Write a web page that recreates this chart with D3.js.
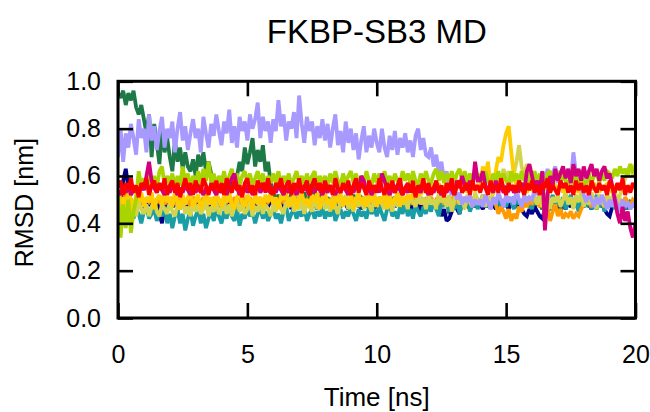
<!DOCTYPE html>
<html>
<head>
<meta charset="utf-8">
<script src="https://cdn.jsdelivr.net/npm/d3@7"></script>
<style>
  html, body { margin: 0; padding: 0; background: #fff; }
  svg { display: block; font-family: "Liberation Sans", Arial, sans-serif; }
</style>
</head>
<body>
<svg id="chart" width="650" height="412"></svg>
<script>
// RMSD traces of ten FKBP-SB3 trajectories, sampled every 0.1 ns (0 .. 20 ns)
const timeStep = 0.1;

const rmsdGreen = [
  0.95,0.93,0.96,0.90,0.95,0.92,0.96,0.89,0.86,0.90, 0.84,0.78,0.86,0.68,0.82,0.74,0.65,0.80,0.70,0.76,
  0.68,0.62,0.75,0.66,0.72,0.63,0.70,0.64,0.62,0.67, 0.60,0.69,0.64,0.70,0.62,0.66,0.61,0.58,0.56,0.55,
  0.54,0.56,0.55,0.57,0.56,0.55,0.60,0.66,0.62,0.72, 0.65,0.70,0.76,0.64,0.71,0.66,0.73,0.62,0.66,0.57,
  0.53,0.50,0.52,0.48,0.51,0.47,0.50,0.52,0.49,0.51, 0.48,0.50,0.53,0.49,0.51,0.59,0.50,0.48,0.52,0.50,
  0.49,0.51,0.48,0.50,0.52,0.47,0.50,0.49,0.51,0.48, 0.50,0.52,0.49,0.47,0.51,0.50,0.48,0.52,0.49,0.50,
  0.48,0.51,0.49,0.50,0.47,0.52,0.49,0.51,0.48,0.50, 0.49,0.47,0.51,0.50,0.48,0.52,0.49,0.51,0.48,0.50,
  0.49,0.51,0.47,0.50,0.48,0.52,0.49,0.50,0.44,0.51, 0.49,0.48,0.50,0.47,0.51,0.49,0.48,0.50,0.47,0.49,
  0.48,0.50,0.47,0.49,0.51,0.48,0.50,0.46,0.49,0.48, 0.50,0.47,0.49,0.51,0.48,0.46,0.50,0.48,0.49,0.47,
  0.49,0.47,0.50,0.48,0.46,0.49,0.47,0.50,0.48,0.49, 0.47,0.45,0.49,0.48,0.50,0.47,0.49,0.48,0.46,0.49,
  0.48,0.50,0.47,0.49,0.48,0.46,0.49,0.47,0.50,0.48, 0.49,0.47,0.48,0.50,0.47,0.49,0.48,0.46,0.49,0.48,
  0.48
];

const rmsdNavy = [
  0.50,0.47,0.58,0.63,0.55,0.49,0.47,0.50,0.48,0.49, 0.47,0.50,0.48,0.49,0.47,0.50,0.44,0.40,0.47,0.49,
  0.48,0.50,0.47,0.49,0.46,0.50,0.48,0.47,0.49,0.50, 0.47,0.48,0.50,0.46,0.49,0.47,0.50,0.48,0.46,0.49,
  0.47,0.50,0.43,0.49,0.48,0.46,0.50,0.47,0.49,0.48, 0.46,0.50,0.47,0.49,0.48,0.50,0.46,0.49,0.47,0.50,
  0.48,0.46,0.50,0.47,0.49,0.48,0.50,0.46,0.49,0.47, 0.50,0.48,0.46,0.49,0.47,0.50,0.48,0.46,0.49,0.47,
  0.49,0.47,0.50,0.48,0.46,0.49,0.47,0.50,0.48,0.46, 0.49,0.47,0.50,0.48,0.46,0.49,0.47,0.50,0.48,0.46,
  0.48,0.50,0.47,0.49,0.46,0.48,0.50,0.47,0.49,0.48, 0.46,0.50,0.47,0.49,0.44,0.48,0.50,0.45,0.49,0.47,
  0.48,0.46,0.50,0.47,0.49,0.43,0.46,0.41,0.42,0.45, 0.48,0.46,0.44,0.49,0.47,0.48,0.46,0.50,0.47,0.49,
  0.48,0.46,0.49,0.47,0.50,0.48,0.46,0.49,0.47,0.50, 0.48,0.46,0.49,0.47,0.50,0.48,0.46,0.44,0.43,0.46,
  0.44,0.47,0.45,0.43,0.42,0.46,0.44,0.48,0.46,0.49, 0.47,0.50,0.48,0.46,0.49,0.47,0.50,0.48,0.46,0.49,
  0.47,0.50,0.48,0.46,0.49,0.47,0.50,0.48,0.46,0.44, 0.43,0.47,0.49,0.47,0.50,0.48,0.46,0.49,0.47,0.48,
  0.47
];

const rmsdTeal = [
  0.47,0.43,0.46,0.41,0.45,0.48,0.42,0.46,0.44,0.40, 0.45,0.47,0.42,0.44,0.46,0.41,0.45,0.43,0.47,0.40,
  0.44,0.38,0.43,0.46,0.40,0.44,0.37,0.42,0.45,0.39, 0.43,0.46,0.40,0.44,0.38,0.42,0.45,0.41,0.46,0.43,
  0.40,0.45,0.42,0.47,0.43,0.41,0.46,0.39,0.44,0.42, 0.47,0.43,0.45,0.40,0.44,0.46,0.42,0.45,0.41,0.44,
  0.46,0.42,0.44,0.40,0.45,0.47,0.41,0.44,0.46,0.42, 0.45,0.43,0.47,0.41,0.44,0.46,0.42,0.45,0.43,0.47,
  0.42,0.45,0.43,0.47,0.41,0.44,0.46,0.42,0.45,0.43, 0.47,0.44,0.41,0.46,0.43,0.45,0.42,0.47,0.44,0.46,
  0.43,0.47,0.44,0.41,0.46,0.48,0.43,0.45,0.42,0.47, 0.44,0.49,0.43,0.46,0.42,0.48,0.45,0.43,0.47,0.44,
  0.48,0.45,0.50,0.46,0.43,0.49,0.47,0.51,0.45,0.48, 0.46,0.50,0.44,0.49,0.47,0.51,0.45,0.48,0.50,0.46,
  0.49,0.52,0.47,0.50,0.46,0.51,0.48,0.52,0.45,0.50, 0.47,0.51,0.49,0.46,0.52,0.48,0.50,0.47,0.51,0.49,
  0.46,0.51,0.48,0.52,0.47,0.50,0.45,0.49,0.52,0.47, 0.50,0.48,0.51,0.46,0.49,0.52,0.47,0.50,0.45,0.49,
  0.51,0.47,0.50,0.46,0.49,0.52,0.47,0.50,0.45,0.49, 0.47,0.51,0.46,0.49,0.48,0.50,0.46,0.49,0.47,0.50,
  0.48
];

const rmsdOrange = [
  0.49,0.52,0.54,0.51,0.53,0.50,0.48,0.50,0.49,0.51, 0.48,0.50,0.49,0.51,0.48,0.50,0.49,0.51,0.48,0.50,
  0.49,0.51,0.48,0.50,0.49,0.51,0.48,0.50,0.47,0.51, 0.49,0.50,0.48,0.51,0.49,0.50,0.48,0.51,0.49,0.50,
  0.48,0.51,0.49,0.50,0.48,0.51,0.49,0.50,0.48,0.50, 0.49,0.51,0.48,0.50,0.49,0.51,0.47,0.50,0.49,0.51,
  0.49,0.50,0.48,0.51,0.49,0.50,0.48,0.51,0.49,0.50, 0.48,0.51,0.49,0.50,0.48,0.51,0.49,0.50,0.48,0.51,
  0.48,0.50,0.49,0.51,0.48,0.50,0.49,0.51,0.48,0.50, 0.49,0.51,0.48,0.50,0.49,0.51,0.48,0.50,0.49,0.51,
  0.49,0.50,0.48,0.51,0.49,0.50,0.46,0.51,0.49,0.50, 0.48,0.51,0.49,0.50,0.48,0.51,0.49,0.50,0.48,0.50,
  0.49,0.51,0.48,0.50,0.49,0.51,0.48,0.50,0.49,0.51, 0.48,0.50,0.49,0.51,0.48,0.50,0.49,0.51,0.48,0.50,
  0.49,0.51,0.48,0.50,0.49,0.50,0.48,0.44,0.47,0.45, 0.42,0.46,0.41,0.44,0.42,0.47,0.45,0.49,0.47,0.50,
  0.48,0.50,0.49,0.47,0.50,0.43,0.46,0.41,0.45,0.48, 0.43,0.46,0.42,0.44,0.43,0.45,0.42,0.44,0.43,0.46,
  0.48,0.50,0.49,0.47,0.50,0.48,0.51,0.49,0.47,0.50, 0.48,0.51,0.49,0.47,0.50,0.48,0.51,0.49,0.47,0.50,
  0.49
];

const rmsdKhaki = [
  0.47,0.43,0.48,0.45,0.50,0.44,0.47,0.43,0.49,0.46, 0.44,0.48,0.43,0.47,0.50,0.45,0.43,0.48,0.46,0.44,
  0.49,0.45,0.43,0.48,0.46,0.50,0.44,0.47,0.43,0.49, 0.45,0.48,0.44,0.46,0.50,0.43,0.47,0.45,0.49,0.44,
  0.46,0.49,0.44,0.48,0.43,0.47,0.50,0.45,0.48,0.44, 0.46,0.49,0.43,0.47,0.45,0.50,0.44,0.48,0.46,0.43,
  0.48,0.45,0.50,0.46,0.44,0.49,0.47,0.51,0.45,0.48, 0.46,0.50,0.44,0.49,0.47,0.45,0.51,0.46,0.48,0.50,
  0.46,0.49,0.45,0.51,0.47,0.44,0.50,0.48,0.52,0.46, 0.49,0.45,0.51,0.47,0.50,0.46,0.52,0.48,0.45,0.50,
  0.47,0.51,0.48,0.46,0.52,0.49,0.45,0.51,0.47,0.53, 0.48,0.50,0.46,0.52,0.49,0.47,0.53,0.48,0.51,0.46,
  0.52,0.48,0.50,0.46,0.53,0.49,0.51,0.47,0.52,0.45, 0.50,0.53,0.48,0.51,0.46,0.52,0.49,0.47,0.53,0.50,
  0.48,0.52,0.47,0.51,0.49,0.53,0.55,0.60,0.58,0.63, 0.59,0.62,0.57,0.61,0.66,0.73,0.64,0.60,0.65,0.62,
  0.56,0.51,0.48,0.52,0.47,0.50,0.53,0.46,0.51,0.49, 0.52,0.47,0.50,0.53,0.48,0.51,0.46,0.52,0.49,0.53,
  0.47,0.51,0.48,0.53,0.49,0.46,0.52,0.50,0.47,0.53, 0.49,0.51,0.54,0.48,0.52,0.55,0.59,0.62,0.65,0.60,
  0.65
];

const rmsdGold = [
  0.53,0.47,0.51,0.48,0.53,0.50,0.46,0.52,0.49,0.53, 0.47,0.51,0.49,0.53,0.46,0.50,0.52,0.48,0.53,0.49,
  0.51,0.47,0.53,0.49,0.46,0.52,0.48,0.51,0.53,0.47, 0.50,0.52,0.46,0.49,0.53,0.48,0.51,0.47,0.52,0.50,
  0.47,0.52,0.49,0.53,0.48,0.46,0.51,0.53,0.49,0.47, 0.52,0.50,0.46,0.53,0.48,0.51,0.47,0.52,0.49,0.53,
  0.48,0.51,0.46,0.52,0.50,0.53,0.47,0.49,0.52,0.46, 0.51,0.53,0.48,0.50,0.47,0.52,0.49,0.53,0.46,0.51,
  0.53,0.48,0.50,0.46,0.52,0.49,0.53,0.47,0.51,0.48, 0.52,0.46,0.50,0.53,0.48,0.51,0.47,0.52,0.49,0.53,
  0.47,0.51,0.49,0.53,0.46,0.52,0.48,0.50,0.53,0.47, 0.51,0.49,0.52,0.50,0.53,0.51,0.54,0.52,0.55,0.53,
  0.55,0.53,0.56,0.54,0.57,0.53,0.55,0.57,0.54,0.56, 0.53,0.55,0.57,0.54,0.56,0.53,0.57,0.55,0.54,0.56,
  0.55,0.64,0.60,0.66,0.55,0.52,0.62,0.68,0.66,0.73, 0.78,0.81,0.70,0.60,0.56,0.54,0.57,0.55,0.53,0.56,
  0.54,0.57,0.55,0.53,0.56,0.54,0.57,0.53,0.55,0.56, 0.54,0.57,0.53,0.55,0.56,0.54,0.57,0.55,0.53,0.56,
  0.55,0.53,0.56,0.54,0.57,0.55,0.53,0.56,0.54,0.57, 0.55,0.53,0.56,0.54,0.57,0.55,0.53,0.56,0.54,0.55,
  0.56
];

const rmsdLavender = [
  0.68,0.80,0.66,0.78,0.72,0.82,0.76,0.69,0.84,0.76, 0.80,0.70,0.86,0.75,0.81,0.71,0.79,0.85,0.72,0.80,
  0.76,0.83,0.70,0.80,0.87,0.75,0.81,0.71,0.78,0.84, 0.76,0.80,0.70,0.85,0.78,0.72,0.82,0.77,0.86,0.79,
  0.73,0.83,0.78,0.88,0.74,0.81,0.72,0.85,0.79,0.83, 0.75,0.86,0.80,0.84,0.91,0.76,0.85,0.79,0.83,0.74,
  0.84,0.79,0.92,0.81,0.86,0.75,0.83,0.80,0.87,0.76, 0.94,0.82,0.74,0.85,0.79,0.83,0.73,0.81,0.76,0.84,
  0.75,0.82,0.72,0.80,0.86,0.73,0.79,0.70,0.83,0.74, 0.80,0.71,0.78,0.67,0.75,0.81,0.70,0.77,0.72,0.80,
  0.74,0.70,0.80,0.72,0.68,0.77,0.71,0.79,0.69,0.76, 0.72,0.78,0.70,0.75,0.68,0.77,0.80,0.71,0.76,0.69,
  0.68,0.72,0.64,0.69,0.61,0.66,0.58,0.62,0.55,0.52, 0.56,0.50,0.53,0.48,0.51,0.49,0.52,0.47,0.50,0.48,
  0.50,0.47,0.52,0.49,0.46,0.51,0.48,0.53,0.50,0.47, 0.52,0.49,0.51,0.48,0.54,0.50,0.47,0.52,0.49,0.51,
  0.50,0.54,0.52,0.57,0.62,0.58,0.63,0.59,0.61,0.64, 0.57,0.62,0.59,0.60,0.63,0.58,0.70,0.61,0.57,0.55,
  0.52,0.49,0.53,0.50,0.47,0.51,0.48,0.52,0.49,0.46, 0.50,0.47,0.51,0.48,0.45,0.50,0.47,0.49,0.46,0.48,
  0.47
];

const rmsdLime = [
  0.52,0.34,0.48,0.38,0.50,0.36,0.45,0.50,0.62,0.55, 0.59,0.54,0.61,0.56,0.60,0.55,0.62,0.64,0.56,0.60,
  0.57,0.61,0.55,0.60,0.56,0.64,0.57,0.61,0.55,0.60, 0.57,0.62,0.56,0.63,0.58,0.66,0.57,0.61,0.56,0.60,
  0.57,0.62,0.56,0.60,0.63,0.57,0.61,0.56,0.60,0.62, 0.57,0.61,0.56,0.59,0.62,0.57,0.61,0.56,0.60,0.57,
  0.61,0.57,0.62,0.56,0.60,0.57,0.61,0.56,0.59,0.62, 0.57,0.60,0.56,0.61,0.57,0.60,0.62,0.56,0.60,0.57,
  0.60,0.56,0.61,0.57,0.62,0.58,0.56,0.61,0.57,0.60, 0.62,0.57,0.61,0.56,0.60,0.57,0.62,0.58,0.56,0.61,
  0.57,0.61,0.58,0.62,0.57,0.60,0.56,0.61,0.58,0.57, 0.62,0.58,0.61,0.57,0.62,0.58,0.56,0.61,0.58,0.62,
  0.58,0.57,0.61,0.63,0.58,0.62,0.57,0.61,0.58,0.62, 0.57,0.61,0.63,0.58,0.62,0.57,0.61,0.58,0.62,0.58,
  0.61,0.57,0.62,0.58,0.56,0.61,0.58,0.62,0.57,0.61, 0.58,0.56,0.62,0.58,0.61,0.57,0.62,0.58,0.61,0.57,
  0.58,0.62,0.57,0.61,0.58,0.56,0.61,0.62,0.57,0.60, 0.61,0.57,0.62,0.58,0.56,0.61,0.57,0.60,0.56,0.59,
  0.58,0.56,0.61,0.57,0.60,0.62,0.57,0.61,0.58,0.62, 0.61,0.59,0.63,0.60,0.64,0.61,0.63,0.60,0.65,0.62,
  0.63
];

const rmsdMagenta = [
  0.54,0.52,0.55,0.53,0.56,0.52,0.54,0.55,0.53,0.56, 0.54,0.60,0.66,0.58,0.55,0.53,0.56,0.54,0.52,0.55,
  0.53,0.56,0.54,0.52,0.55,0.53,0.56,0.54,0.52,0.55, 0.53,0.56,0.54,0.52,0.55,0.53,0.56,0.54,0.52,0.55,
  0.53,0.55,0.52,0.56,0.59,0.61,0.55,0.52,0.54,0.56, 0.53,0.55,0.52,0.54,0.56,0.53,0.55,0.57,0.54,0.53,
  0.55,0.53,0.56,0.54,0.52,0.55,0.53,0.56,0.54,0.52, 0.55,0.53,0.56,0.54,0.52,0.55,0.53,0.56,0.54,0.52,
  0.55,0.53,0.56,0.54,0.52,0.55,0.53,0.56,0.54,0.52, 0.55,0.53,0.56,0.54,0.60,0.58,0.53,0.55,0.52,0.54,
  0.56,0.53,0.61,0.58,0.54,0.52,0.55,0.53,0.56,0.54, 0.52,0.55,0.53,0.56,0.54,0.52,0.55,0.53,0.56,0.54,
  0.52,0.55,0.53,0.56,0.54,0.52,0.55,0.53,0.56,0.54, 0.52,0.58,0.55,0.60,0.56,0.54,0.58,0.55,0.66,0.58,
  0.58,0.62,0.56,0.54,0.55,0.53,0.58,0.54,0.56,0.53, 0.55,0.54,0.56,0.53,0.55,0.54,0.57,0.53,0.62,0.65,
  0.60,0.55,0.58,0.54,0.62,0.37,0.52,0.60,0.56,0.63, 0.58,0.61,0.64,0.59,0.63,0.57,0.65,0.60,0.63,0.58,
  0.64,0.59,0.62,0.65,0.60,0.63,0.58,0.62,0.64,0.59, 0.61,0.56,0.50,0.44,0.40,0.47,0.41,0.45,0.38,0.34,
  0.40
];

const rmsdRed = [
  0.55,0.58,0.52,0.57,0.54,0.59,0.53,0.56,0.51,0.57, 0.55,0.59,0.52,0.56,0.58,0.53,0.57,0.54,0.59,0.52,
  0.56,0.58,0.53,0.57,0.51,0.55,0.59,0.54,0.57,0.52, 0.58,0.55,0.53,0.59,0.56,0.52,0.57,0.54,0.58,0.53,
  0.57,0.52,0.59,0.55,0.53,0.58,0.54,0.56,0.51,0.57, 0.59,0.53,0.56,0.52,0.58,0.55,0.57,0.53,0.59,0.54,
  0.52,0.57,0.55,0.59,0.53,0.56,0.58,0.52,0.57,0.54, 0.59,0.53,0.55,0.58,0.52,0.56,0.59,0.54,0.57,0.53,
  0.58,0.54,0.56,0.52,0.59,0.55,0.53,0.57,0.54,0.58, 0.52,0.56,0.59,0.53,0.57,0.55,0.52,0.58,0.54,0.56,
  0.53,0.59,0.55,0.52,0.57,0.54,0.58,0.53,0.56,0.59, 0.52,0.55,0.57,0.53,0.58,0.51,0.56,0.54,0.59,0.53,
  0.57,0.52,0.55,0.58,0.53,0.56,0.51,0.57,0.54,0.59, 0.52,0.56,0.58,0.53,0.55,0.57,0.52,0.58,0.54,0.56,
  0.53,0.57,0.55,0.52,0.58,0.54,0.56,0.53,0.59,0.55, 0.52,0.57,0.54,0.56,0.53,0.58,0.55,0.52,0.57,0.54,
  0.58,0.53,0.56,0.52,0.57,0.55,0.59,0.53,0.56,0.54, 0.52,0.58,0.55,0.57,0.53,0.56,0.52,0.58,0.54,0.57,
  0.53,0.56,0.52,0.58,0.55,0.53,0.57,0.54,0.56,0.52, 0.58,0.55,0.53,0.57,0.54,0.59,0.52,0.56,0.53,0.57,
  0.55
];

const xTicks = [0, 5, 10, 15, 20];
const yTicks = [0.0, 0.2, 0.4, 0.6, 0.8, 1.0];

// drawing order: first entry is at the back, last entry on top
const traces = [
  { values: rmsdGreen,    color: "#1d7a46" },
  { values: rmsdNavy,     color: "#00008b" },
  { values: rmsdTeal,     color: "#1a9ea6" },
  { values: rmsdOrange,   color: "#ff9a00" },
  { values: rmsdKhaki,    color: "#d4d44c" },
  { values: rmsdGold,     color: "#ffcc00" },
  { values: rmsdLavender, color: "#a899ff" },
  { values: rmsdLime,     color: "#a8d400" },
  { values: rmsdMagenta,  color: "#d3007d" },
  { values: rmsdRed,      color: "#ff0000" }
];

const svg = d3.select("#chart");
const plotLeft = 118, plotRight = 635.5, plotTop = 81.3, plotBottom = 318;

const x = d3.scaleLinear().domain([0, 20]).range([plotLeft, plotRight]);
const y = d3.scaleLinear().domain([0, 1]).range([plotBottom, plotTop]);

svg.append("defs").append("clipPath").attr("id", "plotClip")
  .append("rect")
  .attr("x", plotLeft).attr("y", plotTop)
  .attr("width", plotRight - plotLeft).attr("height", plotBottom - plotTop);

const line = d3.line()
  .x((d, i) => x(i * timeStep))
  .y(d => y(d));

const plot = svg.append("g").attr("clip-path", "url(#plotClip)");
plot.selectAll("path.trace")
  .data(traces)
  .join("path")
  .attr("class", "trace")
  .attr("d", d => line(d.values))
  .attr("fill", "none")
  .attr("stroke", d => d.color)
  .attr("stroke-width", 3.8)
  .attr("stroke-linejoin", "miter")
  .attr("stroke-miterlimit", 2);

// axes with ticks pointing into the plot, mirrored on the opposite sides
const tickLen = 15;
const fontSize = 25;

function styleAxis(g) {
  g.select(".domain").remove();
  g.selectAll(".tick line").attr("stroke", "#000").attr("stroke-width", 2.6);
  g.selectAll(".tick text")
    .attr("fill", "#000")
    .style("font-size", fontSize + "px")
    .style("font-family", '"Liberation Sans", Arial, sans-serif');
}

svg.append("g")
  .attr("transform", `translate(0,${plotBottom})`)
  .call(d3.axisBottom(x).tickValues(xTicks).tickSize(-tickLen).tickSizeOuter(0)
    .tickPadding(27).tickFormat(d3.format("d")))
  .call(styleAxis);

svg.append("g")
  .attr("transform", `translate(0,${plotTop})`)
  .call(d3.axisTop(x).tickValues(xTicks).tickSize(-tickLen).tickSizeOuter(0).tickFormat(""))
  .call(styleAxis);

svg.append("g")
  .attr("transform", `translate(${plotLeft},0)`)
  .call(d3.axisLeft(y).tickValues(yTicks).tickSize(-tickLen).tickSizeOuter(0)
    .tickPadding(17).tickFormat(d3.format(".1f")))
  .call(styleAxis);

svg.append("g")
  .attr("transform", `translate(${plotRight},0)`)
  .call(d3.axisRight(y).tickValues(yTicks).tickSize(-tickLen).tickSizeOuter(0).tickFormat(""))
  .call(styleAxis);

// plot frame
svg.append("rect")
  .attr("x", plotLeft).attr("y", plotTop)
  .attr("width", plotRight - plotLeft).attr("height", plotBottom - plotTop)
  .attr("fill", "none")
  .attr("stroke", "#000")
  .attr("stroke-width", 3);

// titles
svg.append("text")
  .attr("x", (plotLeft + plotRight) / 2).attr("y", 43)
  .attr("text-anchor", "middle")
  .style("font-size", "33px")
  .text("FKBP-SB3 MD");

svg.append("text")
  .attr("x", (plotLeft + plotRight) / 2).attr("y", 406)
  .attr("text-anchor", "middle")
  .style("font-size", "26px")
  .text("Time [ns]");

svg.append("text")
  .attr("transform", `translate(33,${(plotTop + plotBottom) / 2 + 3}) rotate(-90)`)
  .attr("text-anchor", "middle")
  .style("font-size", "25px")
  .text("RMSD [nm]");
</script>
</body>
</html>
